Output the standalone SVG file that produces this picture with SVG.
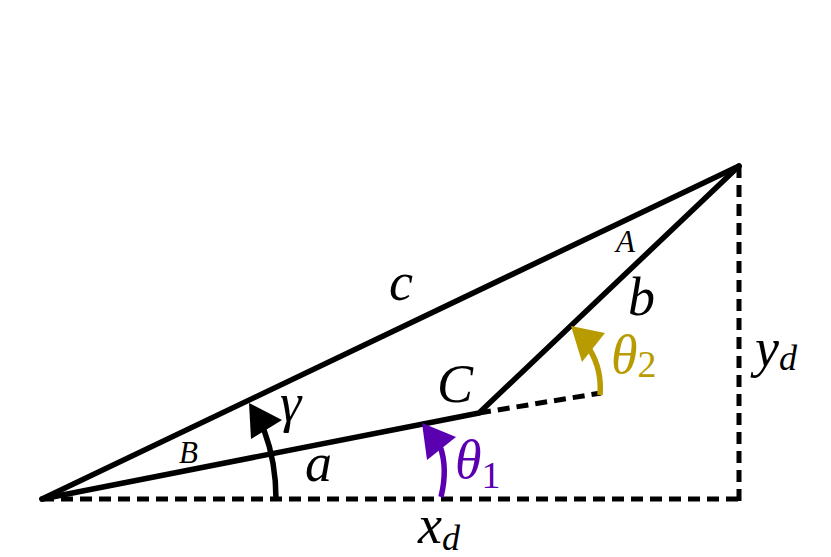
<svg xmlns="http://www.w3.org/2000/svg" width="831" height="557" viewBox="0 0 831 557">
<style>
.solid{fill:none;stroke:#000;stroke-width:5.5;stroke-linecap:round;stroke-linejoin:round}
.dash{fill:none;stroke:#000;stroke-width:5;stroke-dasharray:12 7}
.lbl{font-family:"Liberation Serif","DejaVu Serif",serif;font-style:italic;font-size:54px;fill:#000}
.sm{font-family:"Liberation Serif","DejaVu Serif",serif;font-style:italic;font-size:31px;fill:#000}
.sub{font-family:"Liberation Serif","DejaVu Serif",serif;font-style:normal;font-size:38px}
.subi{font-family:"Liberation Serif","DejaVu Serif",serif;font-style:italic;font-size:36px}
.purple{fill:#5a00b0}
.gold{fill:#b89b00}
</style>
<rect width="831" height="557" fill="#fff"/>
<g id="connectors">
  <line class="dash" x1="42" y1="499" x2="739" y2="499"/>
  <line class="dash" x1="739" y1="166" x2="739" y2="501"/>
  <line class="dash" x1="479" y1="413" x2="601" y2="393"/>
  <polyline class="solid" points="42,499 479,413 739,166"/>
  <line class="solid" x1="42" y1="499" x2="739" y2="166"/>
</g>
<g id="gamma-arrow">
  <path d="M276,499 Q276,462 264,430" fill="none" stroke="#000" stroke-width="5.5"/>
  <polygon points="249,403 282,420 251,439" fill="#000"/>
</g>
<g id="theta1-arrow">
  <path d="M441,497 Q448,468 440,446" fill="none" stroke="#5a00b0" stroke-width="5.5"/>
  <polygon points="422,423 456,437 427,460" fill="#5a00b0"/>
</g>
<g id="theta2-arrow">
  <path d="M600,395 Q602,370 590,350" fill="none" stroke="#b89b00" stroke-width="5.5"/>
  <polygon points="571,326 605,333 582,362" fill="#b89b00"/>
</g>
<g id="labels">
  <text class="lbl" x="389" y="300">c</text>
  <text class="lbl" x="628" y="315">b</text>
  <text class="sm" x="616" y="252">A</text>
  <text class="sm" x="179" y="463">B</text>
  <text class="lbl" x="437" y="402">C</text>
  <text class="lbl" x="280" y="421">γ</text>
  <text class="lbl" x="305" y="481">a</text>
  <text class="lbl purple" x="455" y="478">θ<tspan class="sub" dy="10">1</tspan></text>
  <text class="lbl gold" x="611" y="373">θ<tspan class="sub" dy="4">2</tspan></text>
  <text class="lbl" x="755" y="366">y<tspan class="subi" dy="4">d</tspan></text>
  <text class="lbl" x="418" y="543">x<tspan class="subi" dy="7">d</tspan></text>
</g>
</svg>
